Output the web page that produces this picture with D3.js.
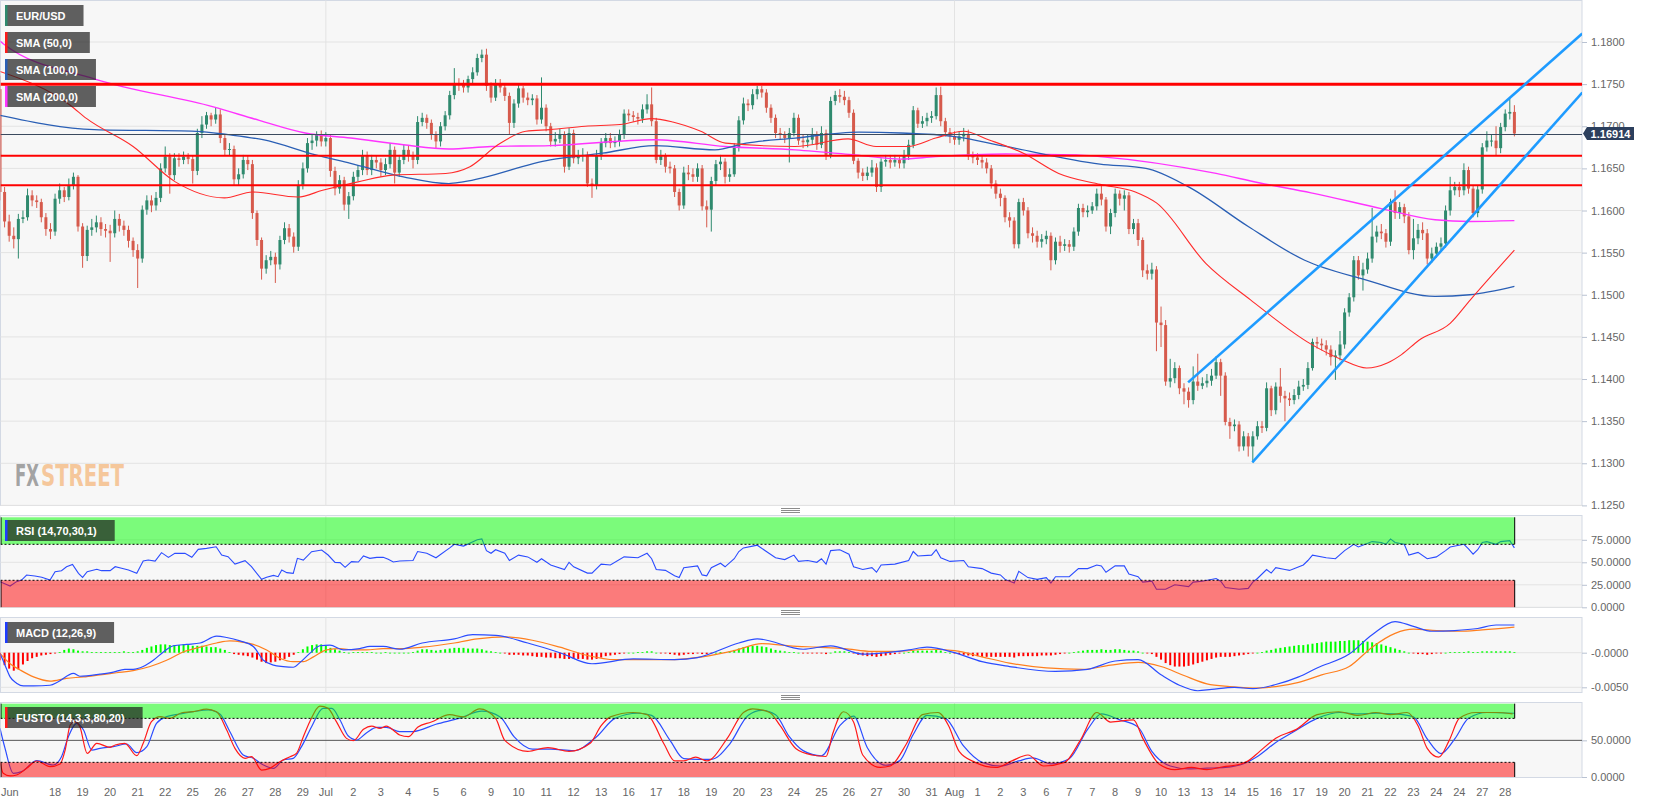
<!DOCTYPE html>
<html><head><meta charset="utf-8"><title>EUR/USD</title>
<script src="https://cdn.jsdelivr.net/npm/d3@7/dist/d3.min.js"></script>
<style>
html,body{margin:0;padding:0;background:#ffffff;}
svg{display:block;font-family:"Liberation Sans",Arial,Helvetica,sans-serif;}
</style></head><body>
<svg id="chart" width="1653" height="804"></svg>
<script>
// ---------------- DATA ----------------
const firstOpen = 1.1744;
const closes = [
1.1622,1.1587,1.1570,1.1566,1.1590,1.1592,1.1618,1.1612,1.1610,1.1592,
1.1578,1.1575,1.1614,1.1624,1.1616,1.1630,1.1640,1.1581,1.1546,1.1577,
1.1580,1.1586,1.1578,1.1576,1.1573,1.1590,1.1582,1.1577,1.1564,1.1553,
1.1543,1.1601,1.1612,1.1606,1.1615,1.1650,1.1664,1.1642,1.1662,1.1660,
1.1664,1.1661,1.1647,1.1692,1.1702,1.1713,1.1708,1.1714,1.1686,1.1672,
1.1673,1.1637,1.1643,1.1660,1.1655,1.1597,1.1565,1.1531,1.1541,1.1545,
1.1536,1.1565,1.1579,1.1569,1.1557,1.1630,1.1650,1.1680,1.1683,1.1690,
1.1682,1.1686,1.1647,1.1626,1.1636,1.1607,1.1617,1.1640,1.1648,1.1665,
1.1648,1.1660,1.1657,1.1648,1.1655,1.1672,1.1645,1.1660,1.1672,1.1665,
1.1660,1.1705,1.1710,1.1704,1.1690,1.1682,1.1700,1.1713,1.1737,1.1751,
1.1749,1.1746,1.1756,1.1764,1.1781,1.1785,1.1748,1.1734,1.1750,1.1746,
1.1736,1.1704,1.1727,1.1745,1.1734,1.1731,1.1733,1.1708,1.1722,1.1700,
1.1682,1.1685,1.1690,1.1652,1.1692,1.1662,1.1665,1.1666,1.1632,1.1630,
1.1666,1.1680,1.1686,1.1680,1.1682,1.1690,1.1715,1.1713,1.1711,1.1709,
1.1720,1.1726,1.1706,1.1660,1.1665,1.1652,1.1650,1.1622,1.1606,1.1645,
1.1643,1.1640,1.1650,1.1605,1.1601,1.1635,1.1655,1.1658,1.1640,1.1643,
1.1675,1.1707,1.1727,1.1725,1.1738,1.1744,1.1740,1.1722,1.1710,1.1692,
1.1690,1.1686,1.1692,1.1710,1.1683,1.1681,1.1684,1.1690,1.1678,1.1692,
1.1666,1.1730,1.1737,1.1735,1.1731,1.1716,1.1659,1.1645,1.1641,1.1645,
1.1651,1.1628,1.1658,1.1660,1.1657,1.1660,1.1656,1.1665,1.1678,1.1719,
1.1703,1.1706,1.1710,1.1712,1.1737,1.1706,1.1693,1.1688,1.1684,1.1688,
1.1691,1.1665,1.1663,1.1660,1.1657,1.1650,1.1632,1.1620,1.1615,1.1592,
1.1588,1.1560,1.1610,1.1600,1.1573,1.1570,1.1563,1.1566,1.1570,1.1541,
1.1563,1.1558,1.1560,1.1557,1.1575,1.1603,1.1598,1.1600,1.1605,1.1620,
1.1613,1.1581,1.1597,1.1620,1.1614,1.1618,1.1578,1.1585,1.1565,1.1529,
1.1525,1.1530,1.1467,1.1464,1.1397,1.1401,1.1413,1.1389,1.1385,1.1375,
1.1397,1.1392,1.1395,1.1398,1.1404,1.1420,1.1404,1.1349,1.1344,1.1346,
1.1320,1.1332,1.1320,1.1332,1.1344,1.1342,1.1389,1.1363,1.1391,1.1380,
1.1377,1.1375,1.1381,1.1391,1.1393,1.1413,1.1444,1.1442,1.1440,1.1435,
1.1426,1.1428,1.1441,1.1479,1.1497,1.1541,1.1523,1.1530,1.1543,1.1569,
1.1575,1.1573,1.1563,1.1610,1.1597,1.1604,1.1593,1.1553,1.1567,1.1577,
1.1573,1.1543,1.1549,1.1557,1.1561,1.1600,1.1624,1.1628,1.1624,1.1648,
1.1626,1.1597,1.1625,1.1675,1.1683,1.1683,1.1674,1.1699,1.1715,1.1717,
1.16914];
const highs = [
1.1760,1.1628,1.1595,1.1580,1.1596,1.1600,1.1626,1.1624,1.1618,1.1614,
1.1597,1.1585,1.1620,1.1632,1.1628,1.1638,1.1645,1.1642,1.1585,1.1582,
1.1590,1.1594,1.1592,1.1584,1.1583,1.1600,1.1596,1.1588,1.1582,1.1568,
1.1560,1.1606,1.1618,1.1618,1.1622,1.1656,1.1676,1.1668,1.1668,1.1668,
1.1670,1.1668,1.1665,1.1697,1.1712,1.1717,1.1716,1.1722,1.1720,1.1690,
1.1680,1.1677,1.1650,1.1666,1.1665,1.1660,1.1600,1.1568,1.1547,1.1552,
1.1550,1.1570,1.1586,1.1584,1.1574,1.1636,1.1657,1.1686,1.1690,1.1694,
1.1695,1.1693,1.1690,1.1652,1.1642,1.1640,1.1622,1.1646,1.1654,1.1672,
1.1670,1.1666,1.1665,1.1662,1.1662,1.1680,1.1676,1.1666,1.1678,1.1677,
1.1670,1.1712,1.1716,1.1714,1.1708,1.1694,1.1705,1.1718,1.1742,1.1769,
1.1757,1.1755,1.1760,1.1770,1.1786,1.1791,1.1792,1.1752,1.1756,1.1756,
1.1750,1.1740,1.1732,1.1750,1.1748,1.1740,1.1738,1.1737,1.1758,1.1726,
1.1704,1.1693,1.1697,1.1694,1.1698,1.1696,1.1672,1.1674,1.1670,1.1638,
1.1672,1.1686,1.1692,1.1692,1.1688,1.1696,1.1720,1.1720,1.1718,1.1716,
1.1726,1.1738,1.1746,1.1710,1.1672,1.1668,1.1658,1.1654,1.1626,1.1652,
1.1654,1.1650,1.1656,1.1654,1.1612,1.1640,1.1660,1.1666,1.1662,1.1650,
1.1680,1.1712,1.1734,1.1732,1.1744,1.1748,1.1748,1.1744,1.1726,1.1714,
1.1698,1.1694,1.1698,1.1716,1.1714,1.1690,1.1690,1.1698,1.1694,1.1700,
1.1696,1.1735,1.1742,1.1744,1.1742,1.1735,1.1720,1.1662,1.1650,1.1652,
1.1660,1.1656,1.1662,1.1666,1.1666,1.1666,1.1664,1.1672,1.1684,1.1724,
1.1722,1.1712,1.1716,1.1718,1.1746,1.1747,1.1710,1.1698,1.1694,1.1694,
1.1698,1.1696,1.1670,1.1668,1.1666,1.1662,1.1654,1.1636,1.1626,1.1618,
1.1598,1.1592,1.1614,1.1615,1.1604,1.1580,1.1576,1.1572,1.1576,1.1574,
1.1568,1.1570,1.1566,1.1565,1.1580,1.1608,1.1608,1.1606,1.1610,1.1626,
1.1629,1.1616,1.1602,1.1626,1.1624,1.1624,1.1622,1.1590,1.1590,1.1568,
1.1536,1.1538,1.1534,1.1486,1.1470,1.1424,1.1420,1.1416,1.1395,1.1390,
1.1415,1.1430,1.1402,1.1406,1.1412,1.1427,1.1424,1.1408,1.1354,1.1352,
1.1350,1.1338,1.1336,1.1338,1.1350,1.1350,1.1396,1.1392,1.1396,1.1413,
1.1386,1.1384,1.1388,1.1398,1.1400,1.1420,1.1448,1.1450,1.1448,1.1446,
1.1440,1.1434,1.1457,1.1484,1.1502,1.1546,1.1546,1.1538,1.1550,1.1603,
1.1582,1.1584,1.1578,1.1614,1.1624,1.1610,1.1608,1.1598,1.1590,1.1584,
1.1586,1.1578,1.1556,1.1562,1.1568,1.1606,1.1640,1.1634,1.1634,1.1656,
1.1652,1.1630,1.1630,1.1680,1.1694,1.1690,1.1700,1.1704,1.1720,1.1733,
1.1725];
const lows = [
1.1612,1.1580,1.1563,1.1555,1.1543,1.1585,1.1588,1.1605,1.1603,1.1586,
1.1570,1.1566,1.1570,1.1608,1.1610,1.1612,1.1625,1.1575,1.1532,1.1540,
1.1570,1.1574,1.1570,1.1568,1.1539,1.1568,1.1575,1.1570,1.1556,1.1545,
1.1508,1.1538,1.1595,1.1598,1.1600,1.1610,1.1645,1.1620,1.1636,1.1652,
1.1655,1.1655,1.1632,1.1642,1.1686,1.1697,1.1700,1.1703,1.1680,1.1665,
1.1665,1.1630,1.1630,1.1638,1.1648,1.1590,1.1558,1.1518,1.1525,1.1535,
1.1514,1.1530,1.1560,1.1562,1.1550,1.1552,1.1625,1.1645,1.1672,1.1676,
1.1676,1.1676,1.1640,1.1618,1.1620,1.1600,1.1590,1.1612,1.1635,1.1642,
1.1642,1.1642,1.1650,1.1640,1.1642,1.1650,1.1632,1.1640,1.1655,1.1658,
1.1650,1.1655,1.1700,1.1697,1.1684,1.1674,1.1676,1.1695,1.1708,1.1732,
1.1742,1.1740,1.1740,1.1750,1.1760,1.1776,1.1742,1.1728,1.1730,1.1740,
1.1730,1.1690,1.1698,1.1722,1.1728,1.1725,1.1725,1.1702,1.1703,1.1694,
1.1676,1.1676,1.1680,1.1645,1.1648,1.1656,1.1655,1.1658,1.1628,1.1615,
1.1625,1.1660,1.1675,1.1674,1.1675,1.1676,1.1685,1.1706,1.1705,1.1702,
1.1704,1.1715,1.1700,1.1656,1.1654,1.1645,1.1644,1.1616,1.1600,1.1602,
1.1636,1.1634,1.1634,1.1600,1.1580,1.1575,1.1630,1.1648,1.1632,1.1634,
1.1640,1.1670,1.1702,1.1718,1.1720,1.1732,1.1734,1.1716,1.1704,1.1686,
1.1684,1.1680,1.1657,1.1688,1.1678,1.1674,1.1675,1.1678,1.1672,1.1674,
1.1660,1.1662,1.1725,1.1728,1.1725,1.1710,1.1655,1.1638,1.1635,1.1636,
1.1640,1.1622,1.1622,1.1652,1.1650,1.1652,1.1650,1.1650,1.1660,1.1674,
1.1698,1.1698,1.1700,1.1704,1.1708,1.1700,1.1688,1.1680,1.1678,1.1678,
1.1682,1.1660,1.1656,1.1654,1.1650,1.1644,1.1626,1.1614,1.1605,1.1586,
1.1580,1.1555,1.1555,1.1594,1.1567,1.1562,1.1556,1.1556,1.1560,1.1529,
1.1536,1.1550,1.1552,1.1550,1.1552,1.1570,1.1592,1.1592,1.1596,1.1600,
1.1606,1.1575,1.1572,1.1592,1.1606,1.1600,1.1572,1.1572,1.1558,1.1521,
1.1518,1.1518,1.1433,1.1438,1.1392,1.1390,1.1395,1.1382,1.1370,1.1366,
1.1370,1.1386,1.1388,1.1390,1.1392,1.1400,1.1380,1.1345,1.1329,1.1338,
1.1314,1.1315,1.1308,1.1301,1.1328,1.1336,1.1338,1.1356,1.1358,1.1372,
1.1350,1.1368,1.1370,1.1376,1.1386,1.1388,1.1410,1.1436,1.1434,1.1428,
1.1416,1.1399,1.1422,1.1436,1.1474,1.1492,1.1518,1.1505,1.1525,1.1538,
1.1562,1.1566,1.1556,1.1558,1.1590,1.1590,1.1585,1.1548,1.1542,1.1560,
1.1565,1.1536,1.1538,1.1544,1.1552,1.1556,1.1594,1.1618,1.1616,1.1618,
1.1620,1.1592,1.1592,1.1620,1.1670,1.1676,1.1665,1.1668,1.1694,1.1708,
1.1688];

// moving averages: [bar index, value]
const sma50 = [[0,1.1765],[15.3,1.1725],[18.9,1.1709],[29,1.1676],[38.2,1.1634],[48.9,1.1615],[55,1.1622],[64.9,1.1616],[70.3,1.1624],[78,1.1634],[85.6,1.1642],[97.1,1.1644],[102.4,1.1652],[108.5,1.1678],[114.6,1.1694],[119.9,1.1696],[127.5,1.1700],[135.1,1.1702],[142,1.1709],[146.6,1.1705],[152.7,1.1694],[158.1,1.1680],[173.3,1.1676],[184.8,1.1685],[190.9,1.1676],[197.8,1.1676],[203.9,1.1686],[210,1.1694],[215.4,1.1684],[223,1.1668],[230.7,1.1644],[239.7,1.1631],[247.4,1.1622],[252,1.1609],[262.8,1.1537],[272.5,1.1494],[285.5,1.1442],[292.4,1.1423],[297.8,1.1413],[302.3,1.1419],[305.4,1.1429],[309.2,1.1446],[316,1.1466],[320.4,1.1494],[330,1.1553]];
const sma100 = [[0,1.1713],[20.6,1.1696],[42.8,1.1694],[49.7,1.1690],[57.3,1.1684],[68.8,1.1666],[76.4,1.1656],[87.9,1.1640],[97.8,1.1632],[100.9,1.1634],[119.9,1.1660],[131.3,1.1668],[142.7,1.1677],[155.8,1.1672],[162.6,1.1680],[173.3,1.1686],[187.1,1.1693],[196.3,1.1692],[207.7,1.1688],[219.2,1.1676],[239.7,1.1655],[249.7,1.1650],[259,1.1628],[272,1.1581],[284.3,1.1541],[297.4,1.1518],[312.7,1.1498],[320.3,1.1500],[330,1.1510]];
const sma200 = [[0,1.1801],[0.7,1.1798],[20.7,1.1756],[46.5,1.1723],[56.5,1.1707],[66.5,1.1692],[76.4,1.1686],[87.9,1.1678],[97.8,1.1673],[107,1.1676],[119.9,1.1677],[142.7,1.1684],[158,1.1676],[173.3,1.1672],[186.3,1.1666],[196.3,1.1661],[203.9,1.1664],[219.2,1.1667],[234.6,1.1666],[239.7,1.1664],[265,1.1644],[274.3,1.1633],[285.7,1.1621],[301.2,1.1602],[312.7,1.1589],[320.3,1.1587],[330,1.1588]];

const levels = [1.1750, 1.1665, 1.1630];
const channelUpper = [[258.9,1.1396],[344.8,1.1810]];
const channelLower = [[272.9,1.1301],[344.8,1.1740]];

// RSI (14,70,30,1): [bar, value]
const rsi = [[0,28.5],[2.2,23.6],[3.6,28.5],[4.7,30.3],[5.8,35.9],[7.6,34.8],[9.1,33.3],[10.9,30.3],[12,39.6],[13.4,40.7],[14.5,45.1],[15.8,47.7],[17.1,37.7],[18,33.3],[19,39.6],[21.1,42.2],[22.1,40.7],[24,40.7],[25.1,45.1],[26.5,43.3],[28,41.4],[29.8,37.7],[31.2,51.4],[32.3,52.5],[33.8,51.4],[35.2,60.7],[36.7,55.5],[38.1,59.9],[40.3,59.9],[41.8,55.5],[43.2,64.4],[45,65.5],[47.1,67.3],[48.3,58.1],[49.7,56.2],[51.2,48.1],[53.4,51.8],[54.8,45.1],[57,31.1],[58.1,33.3],[59.6,35.5],[60.6,34],[61.4,41.4],[62.5,38.5],[63.9,37.7],[64.8,54.4],[66.1,52.5],[67.9,61.8],[70.1,63.6],[71.5,58.1],[73,49.9],[74.1,49.6],[75.2,44.4],[76.6,50.7],[78.1,50.3],[79.2,57],[80.6,54.4],[82.1,55.5],[83.5,55.5],[84.6,53.3],[85.7,50.3],[87.1,51.4],
[90,52],[91,62],[93,60],[95,55],[98,66],[99,70],[101,68],[104,75],[105,76],[106,63],[107,60],[108,64],[110,60],[111,52],[113,58],[115,56],[117,50],[118,54],[120,47],[123,42],[124,50],[125,45],[128,38],[129,38],[131,48],[133,47],[136,56],[139,55],[141,60],[142,54],[143,42],[145,41],[147,35],[148,33],[149,44],[152,46],[153,36],[154,35],[155,44],[157,49],[158,45],[160,54],[161,62],[162,66],[164,68],[165,69],[167,62],[169,55],[171,53],[173,58],[174,51],[176,52],[178,50],[179,54],[180,48],[181,63],[183,64],[185,59],[186,45],[188,42],[190,44],[191,39],[192,47],[195,48],[198,52],[199,62],[200,57],[203,58],[204,64],[205,55],[207,51],[210,52],[211,45],[214,43],[216,38],[218,36],[219,31],[221,27],[222,40],[224,33],[226,31],[228,33],[229,27],[230,34],[233,34],[235,43],[237,43],[239,47],[240,46],[241,39],[243,46],[245,46],[246,37],[248,34],[249,28],[251,29],[252,20],[254,20],[256,25],[259,23],[260,28],[262,29],[265,32],[266,29],[267,22],[270,20],[272,21],[273,28],[274,32],[276,42],[277,38],[278,44],[280,42],[281,41],[284,47],[285,52],[286,58],[289,55],[291,54],[293,63],[295,70],[296,67],[299,73],[301,72],[302,70],[303,76],[304,72],[306,70],[307,58],[309,61],[311,54],[313,56],[315,63],[316,67],[319,70],[320,65],[321,59],[322,64],[323,72],[324,73],[326,70],[327,73],[329,74],[330,66]];

// MACD (12,26,9): lines [bar, value], histogram one value per bar
const macdLine = [[0,-0.0001],[1.1,-0.0018],[2.2,-0.0035],[3.6,-0.0044],[5.1,-0.0048],[7.3,-0.0048],[10.9,-0.0047],[12.7,-0.0042],[16,-0.0030],[17.4,-0.0034],[21.8,-0.0031],[24.7,-0.0028],[27.2,-0.0024],[29,-0.0024],[31.2,-0.0020],[33.4,-0.0011],[35.6,0.0001],[37.8,0.0010],[40.7,0.0012],[43.6,0.0014],[47.2,0.0024],[49.4,0.0022],[52.3,0.0017],[55.2,0.0009],[57.4,-0.0011],[59.6,-0.0018],[61.7,-0.0020],[63.9,-0.0021],[65.4,-0.0014],[67.5,-0.0001],[69.7,0.0010],[71.9,0.0011],[74.8,0.0004],[78.4,0.0006],[80.6,0.0009],[83.5,0.0009],[87.1,0.0005],[92,0.0014],[99,0.0020],[103,0.0026],[108,0.0025],[115,0.0014],[122,0.0000],[129,-0.0016],[138,-0.0009],[147,-0.0010],[152,-0.0007],[161,0.0014],[165,0.0020],[175,0.0005],[181,0.0010],[188,-0.0002],[198,0.0004],[202,0.0008],[208,0.0000],[214,-0.0013],[220,-0.0020],[230,-0.0027],[237,-0.0024],[243,-0.0012],[248,-0.0010],[253,-0.0032],[257,-0.0047],[261,-0.0055],[264,-0.0053],[269,-0.0050],[273,-0.0052],[278,-0.0046],[283,-0.0035],[287,-0.0022],[294,-0.0002],[299,0.0026],[304,0.0045],[308,0.0038],[312,0.0031],[317,0.0032],[322,0.0035],[326,0.0040],[330,0.0040]];
const signalLine = [[0,-0.0001],[2.2,-0.0016],[4.4,-0.0025],[7.3,-0.0035],[10.9,-0.0041],[14.5,-0.0037],[18.2,-0.0035],[21.8,-0.0032],[25.4,-0.0029],[29,-0.0026],[32.7,-0.0020],[36.3,-0.0011],[39.9,0.0001],[43.6,0.0008],[47.2,0.0014],[50.1,0.0017],[53,0.0015],[55.2,0.0012],[58.1,0.0004],[61,-0.0008],[63.9,-0.0013],[66.1,-0.0013],[68.3,-0.0006],[71.2,0.0004],[74.1,0.0006],[77,0.0004],[79.9,0.0004],[83.5,0.0006],[87.1,0.0006],[92,0.0008],[99,0.0014],[104,0.0020],[110,0.0023],[116,0.0018],[122,0.0008],[128,-0.0004],[134,-0.0010],[140,-0.0010],[147,-0.0010],[153,-0.0006],[160,0.0003],[166,0.0013],[172,0.0010],[178,0.0008],[184,0.0006],[190,0.0002],[196,0.0002],[202,0.0005],[208,0.0003],[214,-0.0006],[220,-0.0015],[228,-0.0022],[236,-0.0024],[242,-0.0018],[248,-0.0014],[253,-0.0020],[258,-0.0033],[263,-0.0045],[268,-0.0049],[273,-0.0051],[278,-0.0049],[283,-0.0043],[288,-0.0032],[294,-0.0020],[299,0.0008],[304,0.0028],[308,0.0034],[313,0.0032],[318,0.0031],[323,0.0033],[330,0.0037]];
const macdHist = [
-0.0011,-0.0018,-0.0023,-0.0026,-0.0024,-0.0017,-0.0012,-0.0008,-0.0006,-0.0004,
-0.0003,-0.0002,-0.0001,0.0001,0.0004,0.0006,0.0005,0.0003,0.0002,0.0002,
0.0001,0.0001,0.0001,0.0001,0.0001,0.0001,0.0001,0.0002,0.0001,0.0001,
0.0002,0.0004,0.0007,0.0009,0.0011,0.0012,0.0012,0.0011,0.0011,0.0011,
0.0012,0.0011,0.0010,0.0010,0.0010,0.0009,0.0008,0.0008,0.0006,0.0004,
0.0001,-0.0002,-0.0003,-0.0004,-0.0005,-0.0007,-0.0010,-0.0013,-0.0015,-0.0014,
-0.0013,-0.0011,-0.0009,-0.0006,-0.0003,0.0001,0.0005,0.0009,0.0011,0.0012,
0.0012,0.0010,0.0007,0.0005,0.0003,0.0001,0.0000,0.0001,0.0001,0.0001,
0.0001,0.0001,0.0000,0.0000,0.0001,0.0000,0.0000,0.0000,0.0000,0.0000,
0.0001,0.0003,0.0005,0.0005,0.0004,0.0003,0.0004,0.0005,0.0006,0.0007,
0.0007,0.0007,0.0006,0.0006,0.0006,0.0005,0.0003,0.0002,0.0001,0.0000,
-0.0001,-0.0003,-0.0003,-0.0003,-0.0004,-0.0004,-0.0005,-0.0006,-0.0006,-0.0007,
-0.0007,-0.0008,-0.0008,-0.0009,-0.0009,-0.0009,-0.0009,-0.0009,-0.0010,-0.0010,
-0.0009,-0.0007,-0.0005,-0.0004,-0.0003,-0.0002,-0.0001,0.0000,0.0000,0.0001,
0.0001,0.0002,0.0002,0.0000,-0.0001,-0.0001,-0.0002,-0.0003,-0.0004,-0.0003,
-0.0002,-0.0002,-0.0001,-0.0002,-0.0002,-0.0001,0.0000,0.0001,0.0001,0.0002,
0.0004,0.0006,0.0008,0.0009,0.0010,0.0010,0.0009,0.0008,0.0006,0.0004,
0.0003,0.0002,0.0001,0.0001,0.0000,-0.0001,-0.0001,-0.0001,-0.0001,-0.0001,
-0.0002,0.0000,0.0002,0.0002,0.0002,0.0001,-0.0001,-0.0003,-0.0004,-0.0005,
-0.0005,-0.0006,-0.0005,-0.0004,-0.0003,-0.0002,-0.0001,0.0000,0.0001,0.0003,
0.0003,0.0003,0.0003,0.0003,0.0004,0.0003,0.0001,0.0000,-0.0001,-0.0002,
-0.0003,-0.0004,-0.0005,-0.0005,-0.0006,-0.0006,-0.0006,-0.0006,-0.0006,-0.0006,
-0.0006,-0.0007,-0.0005,-0.0005,-0.0005,-0.0005,-0.0005,-0.0004,-0.0004,-0.0004,
-0.0003,-0.0002,-0.0001,0.0000,0.0001,0.0002,0.0003,0.0004,0.0004,0.0004,
0.0005,0.0004,0.0004,0.0005,0.0005,0.0004,0.0003,0.0003,0.0002,0.0000,
-0.0001,-0.0002,-0.0006,-0.0010,-0.0015,-0.0018,-0.0020,-0.0020,-0.0020,-0.0019,
-0.0017,-0.0015,-0.0013,-0.0011,-0.0009,-0.0007,-0.0006,-0.0006,-0.0006,-0.0005,
-0.0004,-0.0003,-0.0002,-0.0001,0.0000,0.0001,0.0003,0.0004,0.0006,0.0007,
0.0008,0.0009,0.0010,0.0011,0.0011,0.0012,0.0013,0.0014,0.0015,0.0016,
0.0016,0.0016,0.0017,0.0017,0.0018,0.0018,0.0018,0.0017,0.0016,0.0015,
0.0014,0.0012,0.0010,0.0008,0.0006,0.0004,0.0002,0.0000,-0.0001,-0.0002,
-0.0002,-0.0003,-0.0002,-0.0001,-0.0001,0.0000,0.0001,0.0001,0.0001,0.0001,
0.0002,0.0001,0.0001,0.0002,0.0002,0.0002,0.0002,0.0002,0.0002,0.0002,
0.0001];

// FUSTO (14,3,3,80,20): [bar, value]
const fustoK = [[0,20.9],[0.7,5],[2.2,1.4],[3.6,2.7],[5.8,11.8],[8,21.8],[10.9,14.1],[13.1,17.7],[14.2,36.8],[15.3,70.9],[16.3,75.5],[17.4,68.6],[19,32.3],[21.1,45.9],[24,40.5],[25.1,43.6],[27.2,45.9],[29.8,29.1],[31.2,45.9],[33,75.5],[34.9,82.3],[37,80],[39.6,87.7],[42.1,89.1],[45,92.7],[47.2,89.1],[49.4,64.1],[51.2,39.1],[53.4,25.5],[54.8,27.7],[57,9.5],[58.8,11.8],[61,20.9],[63.2,27.7],[64.6,32.3],[66.1,55],[67.5,75.5],[69.7,96.8],[71.5,93.6],[73.3,75.5],[75.5,52.7],[77,49.5],[79.2,65],[81,69.5],[82.8,66.4],[84.2,69.5],[86.1,61.8],[87.1,57.3],
[89,55],[91,68],[94,75],[98,85],[101,82],[104.5,93],[108,80],[110,50],[115,35],[119.4,40],[124,35],[128.6,46],[131,70],[133,82],[138,88],[141,85],[144.7,45],[147,22],[149,22],[151.6,27],[154,22],[158.5,53],[162,88],[164,93],[167.7,88],[170,70],[173.4,39],[177,30],[180,28],[181.5,60],[183.8,89],[186,75],[188,30],[191.8,13],[194,15],[197.5,45],[201,85],[204.4,88],[206.7,70],[209,35],[212.5,20],[217,13],[220.5,22],[224,30],[227.4,15],[232,20],[235.4,50],[239,88],[242,75],[247,78],[249,53],[252.7,17],[256,10],[259.6,13],[263,10],[266.5,14],[270,17],[272,22],[274.5,35],[278,53],[282.5,65],[287,85],[291.7,89],[296,84],[299.8,88],[303,85],[306.6,88],[309,70],[311,39],[313.5,27],[315.8,50],[318,80],[321.6,88],[326,88],[329.6,86]];
const fustoD = [[0,66.4],[1.1,39.1],[2.9,5],[4.7,7.3],[8,22.3],[11.6,16.4],[13.4,27.7],[14.9,55],[16.7,73.2],[18.2,64.1],[20,36.8],[21.8,39.1],[24.7,41.4],[27.6,45],[29.8,33.2],[32,41.4],[34.1,73.2],[36.3,82.3],[39.2,85.9],[42.1,89.1],[45.4,91.4],[47.9,85.9],[50.1,61.8],[53,30],[55.2,25.5],[57.4,16.4],[59.6,11.8],[61.7,23.2],[63.9,25.5],[65.7,41.4],[67.9,68.6],[70.4,93.6],[72.3,93.6],[74.1,77.7],[75.9,55.9],[77.7,50.5],[79.9,60.5],[82.1,67.7],[84.2,67.7],[87.1,61.8],
[90,62],[95,72],[100,80],[105,90],[109,82],[112,55],[116,38],[120,38],[125,36],[130,55],[134,80],[139,87],[142,84],[146,50],[149,25],[152,24],[155,24],[159,45],[163,84],[166,91],[169,85],[172,55],[175,36],[179,29],[183,70],[186,83],[189,40],[193,16],[196,22],[199,58],[202,84],[206,80],[210,42],[214,20],[218,15],[222,22],[225,26],[229,18],[233,25],[237,65],[240,86],[244,78],[248,68],[251,35],[255,15],[259,11],[263,12],[267,13],[271,18],[274,28],[278,47],[282,62],[287,80],[292,88],[296,86],[300,87],[304,86],[308,82],[311,52],[314,32],[317,52],[320,80],[324,88],[330,87]];

// axes
const priceTicks = [1.125,1.130,1.135,1.140,1.145,1.150,1.155,1.160,1.165,1.170,1.175,1.180];
const rsiTicks = [0,25,50,75];
const rsiLevels = [70,30];
const macdTicks = [0,-0.005];
const macdTickLabels = ["-0.0000","-0.0050"];
const fustoTicks = [0,50];
const fustoLevels = [80,20];
const monthBars = [71,208];
const xLabels = [[0,"Jun"],[12,"18"],[18,"19"],[24,"20"],[30,"21"],[36,"22"],[42,"25"],[48,"26"],[54,"27"],[60,"28"],[66,"29"],[71,"Jul"],[77,"2"],[83,"3"],[89,"4"],[95,"5"],[101,"6"],[107,"9"],[113,"10"],[119,"11"],[125,"12"],[131,"13"],[137,"16"],[143,"17"],[149,"18"],[155,"19"],[161,"20"],[167,"23"],[173,"24"],[179,"25"],[185,"26"],[191,"27"],[197,"30"],[203,"31"],[208,"Aug"],[213,"1"],[218,"2"],[223,"3"],[228,"6"],[233,"7"],[238,"7"],[243,"8"],[248,"9"],[253,"10"],[258,"13"],[263,"13"],[268,"14"],[273,"15"],[278,"16"],[283,"17"],[288,"19"],[293,"20"],[298,"21"],[303,"22"],[308,"23"],[313,"24"],[318,"24"],[323,"27"],[328,"28"]];
const legendMain = ["EUR/USD","SMA (50,0)","SMA (100,0)","SMA (200,0)"];
const legendRSI = "RSI (14,70,30,1)";
const legendMACD = "MACD (12,26,9)";
const legendFUSTO = "FUSTO (14,3,3,80,20)";
const watermark = ["FX","STREET"];

// ---------------- DRAWING ----------------
const svg = d3.select("#chart");
const N = closes.length;
const opens = closes.map((c,i)=> i===0 ? firstOpen : closes[i-1]);
const plotR = 1582;
const x = d3.scaleLinear().domain([0, N-1]).range([0, 1514.4]);
const P = {
  main:{top:0.5,bottom:505.5},
  rsi:{top:515.5,bottom:607.5},
  macd:{top:617.5,bottom:692.5},
  fusto:{top:702.5,bottom:777.5}
};
const yP = d3.scaleLinear().domain([1.125,1.18]).range([505.4,42]);
const yR = d3.scaleLinear().domain([0,100]).range([607.3,517.3]);
const yM = d3.scaleLinear().domain([-0.005,0]).range([687.3,652.7]);
const yF = d3.scaleLinear().domain([0,100]).range([777,703.7]);
const FONT = '"Liberation Sans",Arial,Helvetica,sans-serif';
const zoneEnd = x(N-1) + 0.3;

const defs = svg.append("defs");
Object.entries(P).forEach(([k,p])=>{
  defs.append("clipPath").attr("id","clip-"+k).append("rect")
    .attr("x",0.5).attr("y",p.top).attr("width",plotR-0.5).attr("height",p.bottom-p.top);
});
Object.values(P).forEach(p=>{
  svg.append("rect").attr("x",0.5).attr("y",p.top).attr("width",plotR-0.5).attr("height",p.bottom-p.top)
    .attr("fill","#f7f7f7").attr("stroke","#d3d9e4").attr("stroke-width",1);
});

// grids
const grid = svg.append("g").attr("stroke","#e3e3e3").attr("stroke-width",1);
priceTicks.forEach(t=>grid.append("line").attr("x1",0.5).attr("x2",plotR).attr("y1",yP(t)).attr("y2",yP(t)));
rsiTicks.forEach(t=>grid.append("line").attr("x1",0.5).attr("x2",plotR).attr("y1",yR(t)).attr("y2",yR(t)));
macdTicks.forEach(t=>grid.append("line").attr("x1",0.5).attr("x2",plotR).attr("y1",yM(t)).attr("y2",yM(t)));
Object.values(P).forEach(p=>monthBars.forEach(b=>grid.append("line").attr("x1",x(b)).attr("x2",x(b)).attr("y1",p.top).attr("y2",p.bottom)));

// y axes
function yAxis(scale, ticks, fmt){
  const g = svg.append("g").attr("transform",`translate(${plotR},0)`)
    .call(d3.axisRight(scale).tickValues(ticks).tickSize(5).tickPadding(4).tickFormat(fmt));
  g.select(".domain").remove();
  g.selectAll(".tick line").attr("stroke","#b9c2d2");
  g.selectAll(".tick text").attr("fill","#666").attr("font-size",11).attr("font-family",FONT);
  g.attr("font-family",FONT);
}
yAxis(yP, priceTicks, d3.format(".4f"));
yAxis(yR, rsiTicks, d3.format(".4f"));
yAxis(yM, macdTicks, (d,i)=>macdTickLabels[i]);
yAxis(yF, fustoTicks, d3.format(".4f"));

// x labels
const xl = svg.append("g").attr("font-family",FONT).attr("font-size",11).attr("fill","#666");
xLabels.forEach(([b,t])=>{
  const tx = xl.append("text").attr("x",x(b)).attr("y",795.5).attr("text-anchor","middle").text(t);
  const w = tx.node().getComputedTextLength();
  if (x(b) - w/2 < 1) tx.attr("text-anchor","start").attr("x",1);
});

// ---- main panel ----
const gm = svg.append("g").attr("clip-path","url(#clip-main)");
const bull = "#2f8a6e", bear = "#d65a4c";
const cg = gm.append("g");
closes.forEach((c,i)=>{
  const o = opens[i], col = c >= o ? bull : bear;
  cg.append("line").attr("x1",x(i)).attr("x2",x(i)).attr("y1",yP(highs[i])).attr("y2",yP(lows[i]))
    .attr("stroke",col).attr("stroke-width",1);
  const yt = yP(Math.max(o,c)), yb = yP(Math.min(o,c));
  cg.append("rect").attr("x",x(i)-1.5).attr("width",3).attr("y",yt).attr("height",Math.max(1,yb-yt)).attr("fill",col);
});
const lineP = d3.line().x(d=>x(d[0])).y(d=>yP(d[1])).curve(d3.curveMonotoneX);
gm.append("path").datum(sma200).attr("d",lineP).attr("fill","none").attr("stroke","#ff33ff").attr("stroke-width",1.4);
gm.append("path").datum(sma100).attr("d",lineP).attr("fill","none").attr("stroke","#2a5fb5").attr("stroke-width",1.3);
gm.append("path").datum(sma50).attr("d",lineP).attr("fill","none").attr("stroke","#ff2b2b").attr("stroke-width",1.1);
levels.forEach((l,i)=>{
  gm.append("line").attr("x1",0.5).attr("x2",plotR).attr("y1",yP(l)).attr("y2",yP(l))
    .attr("stroke","#ff0000").attr("stroke-width", i===0 ? 3 : 2);
});
const last = closes[N-1];
gm.append("line").attr("x1",0.5).attr("x2",plotR).attr("y1",Math.round(yP(last))+0.5).attr("y2",Math.round(yP(last))+0.5)
  .attr("stroke","#3b4a5e").attr("stroke-width",1);
const lineC = d3.line().x(d=>x(d[0])).y(d=>yP(d[1]));
[channelUpper, channelLower].forEach(ch=>{
  gm.append("path").datum(ch).attr("d",lineC).attr("fill","none").attr("stroke","#1e9bff").attr("stroke-width",2.6);
});

// price tag
const ty = yP(last);
svg.append("path").attr("d",`M${plotR+1},${ty} L${plotR+5},${ty-6.5} L${plotR+52},${ty-6.5} L${plotR+52},${ty+6.5} L${plotR+5},${ty+6.5} Z`).attr("fill","#2c3f5d");
svg.append("text").attr("x",plotR+28.5).attr("y",ty+4).attr("text-anchor","middle").attr("fill","#fff")
  .attr("font-family",FONT).attr("font-size",11).attr("font-weight","bold").text(d3.format(".5f")(last));

// watermark: each word squeezed horizontally into its own slot
const wmFont = '"DejaVu Sans Condensed","DejaVu Sans",sans-serif';
const wmSlots = [[15,24,"#a3a3a3"],[41,83,"#f5c79b"]];
watermark.forEach((w,i)=>{
  const [x0,width,col] = wmSlots[i];
  const g = svg.append("g");
  const t = g.append("text").attr("x",0).attr("y",0).attr("font-family",wmFont).attr("font-weight","bold")
    .attr("font-size",30).attr("fill",col).text(w);
  const nat = t.node().getComputedTextLength();
  g.attr("transform",`translate(${x0},486) scale(${width/nat},1)`);
});

// legends
function legendBox(label, top, color){
  const g = svg.append("g");
  const t = g.append("text").attr("x",16).attr("y",top+15).attr("fill","#fff").attr("font-family",FONT)
    .attr("font-size",11).attr("font-weight","bold").text(label);
  const w = t.node().getComputedTextLength();
  g.insert("rect","text").attr("x",5).attr("y",top).attr("width",w+29).attr("height",21).attr("fill","rgba(30,30,30,0.7)");
  g.insert("rect","text").attr("x",5).attr("y",top).attr("width",2.5).attr("height",21).attr("fill",color);
}
const legendColors = ["#2f8a6e","#ff1a1a","#2a5fb5","#ff33ff"];
legendMain.forEach((l,i)=>legendBox(l, 5 + i*27, legendColors[i]));

// ---- RSI ----
const gr = svg.append("g").attr("clip-path","url(#clip-rsi)");
gr.append("path").datum(rsi).attr("d",d3.line().x(d=>x(d[0])).y(d=>yR(d[1]))).attr("fill","none").attr("stroke","#2b4cff").attr("stroke-width",1.1);
function zones(g, yS, lv){
  g.append("rect").attr("x",0.5).attr("width",zoneEnd-0.5).attr("y",yS(100)).attr("height",yS(lv[0])-yS(100)).attr("fill","rgba(0,255,0,0.5)");
  g.append("rect").attr("x",0.5).attr("width",zoneEnd-0.5).attr("y",yS(lv[1])).attr("height",yS(0)-yS(lv[1])).attr("fill","rgba(255,0,0,0.5)");
  lv.forEach(v=>g.append("line").attr("x1",0.5).attr("x2",zoneEnd).attr("y1",yS(v)).attr("y2",yS(v)).attr("stroke","#000").attr("stroke-dasharray","2,2").attr("stroke-width",1));
  [[yS(100),yS(lv[0])],[yS(lv[1]),yS(0)]].forEach(([a,b])=>{
    g.append("line").attr("x1",zoneEnd).attr("x2",zoneEnd).attr("y1",a).attr("y2",b).attr("stroke","#000").attr("stroke-width",1);
    g.append("line").attr("x1",1).attr("x2",1).attr("y1",a).attr("y2",b).attr("stroke","#000").attr("stroke-width",1);
  });
}
zones(gr, yR, rsiLevels);
legendBox(legendRSI, P.rsi.top+4.5, "#1e3cff");

// ---- MACD ----
const gmc = svg.append("g").attr("clip-path","url(#clip-macd)");
macdHist.forEach((v,i)=>{
  const a = yM(Math.max(v,0)), b = yM(Math.min(v,0));
  gmc.append("rect").attr("x",x(i)-1).attr("width",2).attr("y",a).attr("height",Math.max(0.8,b-a))
    .attr("fill", v>=0 ? "#00ff00" : "#ff0000");
});
const lineM = d3.line().x(d=>x(d[0])).y(d=>yM(d[1])).curve(d3.curveMonotoneX);
gmc.append("path").datum(signalLine).attr("d",lineM).attr("fill","none").attr("stroke","#ff7f1e").attr("stroke-width",1.2);
gmc.append("path").datum(macdLine).attr("d",lineM).attr("fill","none").attr("stroke","#2b4cff").attr("stroke-width",1.2);
legendBox(legendMACD, P.macd.top+4.5, "#1e3cff");

// ---- FUSTO ----
const gf = svg.append("g").attr("clip-path","url(#clip-fusto)");
gf.append("line").attr("x1",0.5).attr("x2",plotR).attr("y1",yF(50)).attr("y2",yF(50)).attr("stroke","#555").attr("stroke-width",1);
const lineF = d3.line().x(d=>x(d[0])).y(d=>yF(d[1])).curve(d3.curveMonotoneX);
gf.append("path").datum(fustoD).attr("d",lineF).attr("fill","none").attr("stroke","#2b4cff").attr("stroke-width",1.2);
gf.append("path").datum(fustoK).attr("d",lineF).attr("fill","none").attr("stroke","#ff1a1a").attr("stroke-width",1.2);
zones(gf, yF, fustoLevels);
legendBox(legendFUSTO, P.fusto.top+4.5, "#ff1a1a");

// grips between panels
[[P.main.bottom,P.rsi.top],[P.rsi.bottom,P.macd.top],[P.macd.bottom,P.fusto.top]].forEach(([a,b])=>{
  const c = (a+b)/2;
  [-2,0,2].forEach(d=>svg.append("line").attr("x1",781).attr("x2",800).attr("y1",c+d).attr("y2",c+d).attr("stroke","#8c8c8c").attr("stroke-width",1));
});
</script>
</body></html>
